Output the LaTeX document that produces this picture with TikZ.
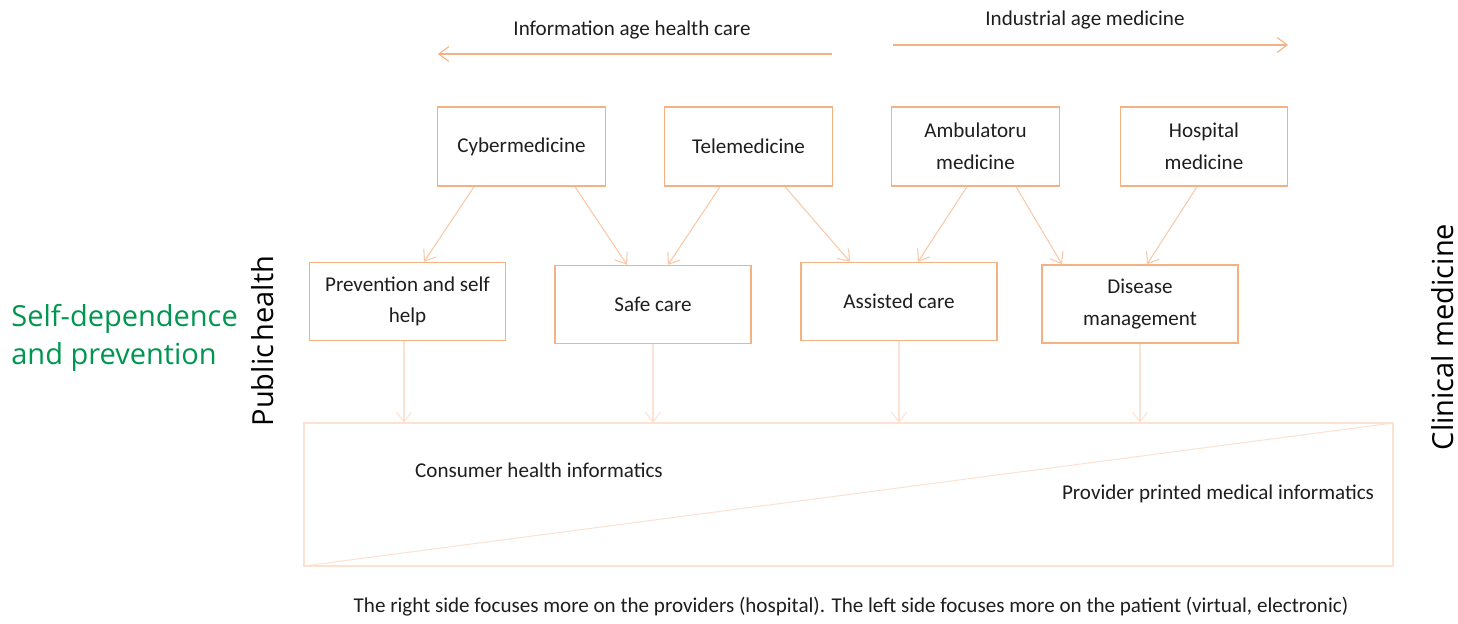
\documentclass[tikz,border=0pt]{standalone}
\usepackage{fontspec}
\setmainfont{Carlito}
\newfontfamily\sidefont{Open Sans}
\usetikzlibrary{arrows.meta}
\usepackage{xcolor}

\definecolor{boxline}{RGB}{244,177,131}
\definecolor{linkline}{RGB}{248,200,168}
\definecolor{paleline}{RGB}{252,226,210}
\definecolor{selfgreen}{RGB}{0,150,80}
\definecolor{textgray}{RGB}{30,30,30}

\begin{document}
\begin{tikzpicture}[
x=0.02cm, y=-0.02cm,
font=\fontsize{12}{18}\selectfont\color{textgray},
box/.style={draw=boxline,
thick,
rectangle,
minimum width=3.35cm,
minimum height=1.58cm,
align=center},
midbox/.style={box,
minimum width=3.92cm,
minimum height=1.56cm},
arrow/.style={-{Straight Barb[length=2mm,width=3mm]}, linkline, semithick},
downarrow/.style={-{Straight Barb[length=2mm,width=3mm]}, paleline, semithick},
sidelabel/.style={font=\sidefont\fontsize{16.5}{22}\selectfont, inner sep=0pt}
]
\useasboundingbox (0,0) rectangle (1458,623);

% top row
\node[box] (cyber) at (521.5,146.5) {Cybermedicine};
\node[box] (tele) at (748.5,146.5) {Telemedicine};
\node[box] (ambu) at (975.5,146.5) {Ambulatoru\\medicine};
\node[box] (hosp) at (1204,146.5) {Hospital\\medicine};

% middle row
\node[midbox] (prev) at (407.5,301.5) {Prevention and self\\help};
\node[midbox] (safe) at (653,304.5) {Safe care};
\node[midbox] (assist) at (899,301.5) {Assisted care};
\node[midbox] (disease) at (1140,304) {Disease\\management};

% bottom panel
\draw[paleline, semithick] (304,423) rectangle (1393,566);
\draw[paleline, semithick] (304,566) -- (1393,423);
\coordinate (prevend) at (404,423);
\coordinate (safeend) at (653,423);
\coordinate (assistend) at (899,423);
\coordinate (diseaseend) at (1140,423);
\node (consumer) at (539,470) {Consumer health informatics};
\node (provider) at (1218,494) {Provider printed medical informatics};

% top arrows
\node (infolabel) at (632,30) {Information age health care};
\node (induslabel) at (1085,20) {Industrial age medicine};
\coordinate (infostart) at (832,54);
\coordinate (infoend) at (438,54);
\coordinate (indusstart) at (893,45);
\coordinate (indusend) at (1288,45);
\draw[arrow, boxline] (infostart) -- (infoend);
\draw[arrow, boxline] (indusstart) -- (indusend);

% links between rows
\draw[arrow] (cyber.south -| 474,0) -- (prev.north -| 424,0);
\draw[arrow] (cyber.south -| 575,0) -- (safe.north -| 627,0);
\draw[arrow] (tele.south -| 720,0) -- (safe.north -| 668,0);
\draw[arrow] (tele.south -| 785,0) -- (assist.north -| 850,0);
\draw[arrow] (ambu.south -| 967,0) -- (assist.north -| 918,0);
\draw[arrow] (ambu.south -| 1016,0) -- (disease.north -| 1062,0);
\draw[arrow] (hosp.south -| 1197,0) -- (disease.north -| 1147,0);

\draw[downarrow] (prev.south -| prevend) -- (prevend);
\draw[downarrow] (safe.south) -- (safeend);
\draw[downarrow] (assist.south) -- (assistend);
\draw[downarrow] (disease.south) -- (diseaseend);

% side labels
\node[sidelabel, text=selfgreen, align=left, anchor=west] (selfdep) at (11,338) {Self-dependence\\and prevention};
\node[sidelabel, rotate=90] (public) at (263,341) {Public\hspace{0.12em}health};
\node[sidelabel, rotate=90] (clinical) at (1443,337) {Clinical medicine};

\node (caption) at (851,607) {The right side focuses more on the providers (hospital). The left side focuses more on the patient (virtual, electronic)};
\end{tikzpicture}
\end{document}
